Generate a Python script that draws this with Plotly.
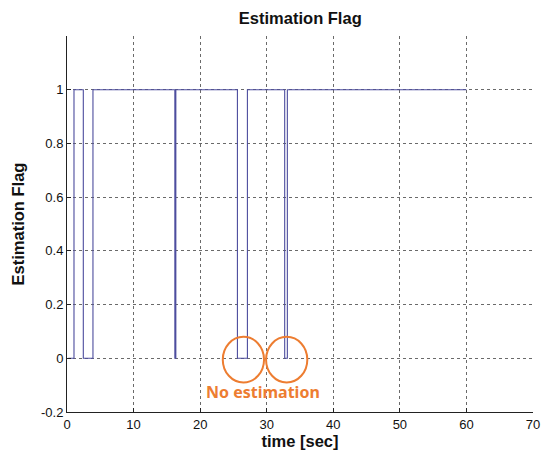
import plotly.graph_objects as go

# data: step changes of the estimation flag
time_sec = [0.2, 1.05, 2.45, 3.9, 16.2, 16.35, 25.6, 27.1, 32.7, 33.1, 60.0]
est_flag = [0, 1, 0, 1, 0, 1, 0, 1, 0, 1, 1]

x_ticks = [0, 10, 20, 30, 40, 50, 60, 70]
y_ticks = [-0.2, 0, 0.2, 0.4, 0.6, 0.8, 1]

# highlighted "no estimation" regions (circle centres in data units)
circle_x = [26.5, 33.0]
circle_y = [-0.005, -0.005]
circle_rx = 3.1
circle_ry = 0.085
note_text = "No estimation"

fig = go.Figure()
fig.add_trace(go.Scatter(
    x=time_sec, y=est_flag, mode="lines", line_shape="hv",
    line=dict(color="#4d4d9e", width=1.1), showlegend=False, hoverinfo="skip"))

for cx, cy in zip(circle_x, circle_y):
    fig.add_shape(type="circle", xref="x", yref="y",
                  x0=cx - circle_rx, x1=cx + circle_rx,
                  y0=cy - circle_ry, y1=cy + circle_ry,
                  line=dict(color="#ED7D31", width=2))

fig.add_annotation(x=sum(circle_x) / 2 - 0.3, y=-0.124, xref="x", yref="y",
                   text="<b>" + note_text + "</b>", showarrow=False,
                   font=dict(family="Noto Sans", size=16, color="#ED7D31"))

axis_common = dict(
    showgrid=True, gridcolor="#6a6a6a", griddash="dot", gridwidth=1,
    showline=True, linecolor="#222222", linewidth=1,
    ticks="inside", ticklen=4, tickcolor="#222222",
    tickfont=dict(family="Liberation Sans, Arial", size=13, color="#111111"),
    zeroline=False, mirror=False, automargin=False,
)

title_font = dict(family="Liberation Sans, Arial", size=16.5, color="#111111")

fig.update_layout(
    width=549, height=454,
    margin=dict(l=67, r=16, t=36, b=42),
    paper_bgcolor="white", plot_bgcolor="white",
    title=dict(text="<b>Estimation Flag</b>", x=0.547, xanchor="center",
               y=0.96, yanchor="middle", font=title_font),
    xaxis=dict(range=[0, 70], tickvals=x_ticks,
               title=dict(text="<b>time [sec]</b>", standoff=2, font=title_font),
               **axis_common),
    yaxis=dict(range=[-0.2, 1.2], tickvals=y_ticks,
               ticktext=[str(v) for v in y_ticks],
               title=dict(text="<b>Estimation Flag</b>", standoff=12, font=title_font),
               **axis_common),
)

fig.write_html("out.html")
